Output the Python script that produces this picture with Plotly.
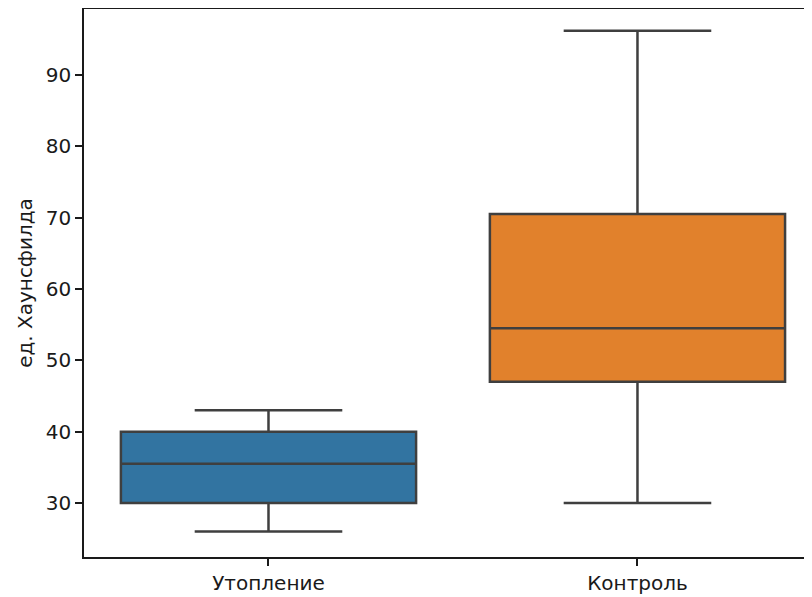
import plotly.graph_objects as go

categories = ["Утопление", "Контроль"]
q1 = [30.0, 47.0]
median = [35.5, 54.5]
q3 = [40.0, 70.5]
lower = [26.0, 30.0]
upper = [43.0, 96.2]
colors = ["#3274a1", "#e1812c"]
y_ticks = [30, 40, 50, 60, 70, 80, 90]

fig = go.Figure()
for i, c in enumerate(categories):
    fig.add_trace(go.Box(
        x=[c], q1=[q1[i]], median=[median[i]], q3=[q3[i]],
        lowerfence=[lower[i]], upperfence=[upper[i]],
        fillcolor=colors[i], line=dict(color="#3f3f3f", width=2.5),
        width=0.8, whiskerwidth=0.5, boxpoints=False, showlegend=False,
        hoverinfo="skip",
    ))

font = dict(family="DejaVu Sans", size=20, color="#1a1a1a")
axis_common = dict(showline=True, linecolor="#1a1a1a", linewidth=1.6,
                   ticks="outside", ticklen=7, tickwidth=1.6, tickcolor="#1a1a1a",
                   showgrid=False, zeroline=False, tickfont=font)
fig.update_layout(
    width=804, height=589,
    margin=dict(l=76, r=0, t=1, b=40),
    plot_bgcolor="white", paper_bgcolor="white",
    font=font,
    xaxis=dict(type="category", categoryorder="array", categoryarray=categories,
               range=[-0.5, 1.473], mirror=True, **axis_common),
    yaxis=dict(range=[22.43, 99.25], tickvals=y_ticks,
               title=dict(text="ед. Хаунсфилда", font=font, standoff=8),
               **axis_common),
)
fig.write_html("out.html")
